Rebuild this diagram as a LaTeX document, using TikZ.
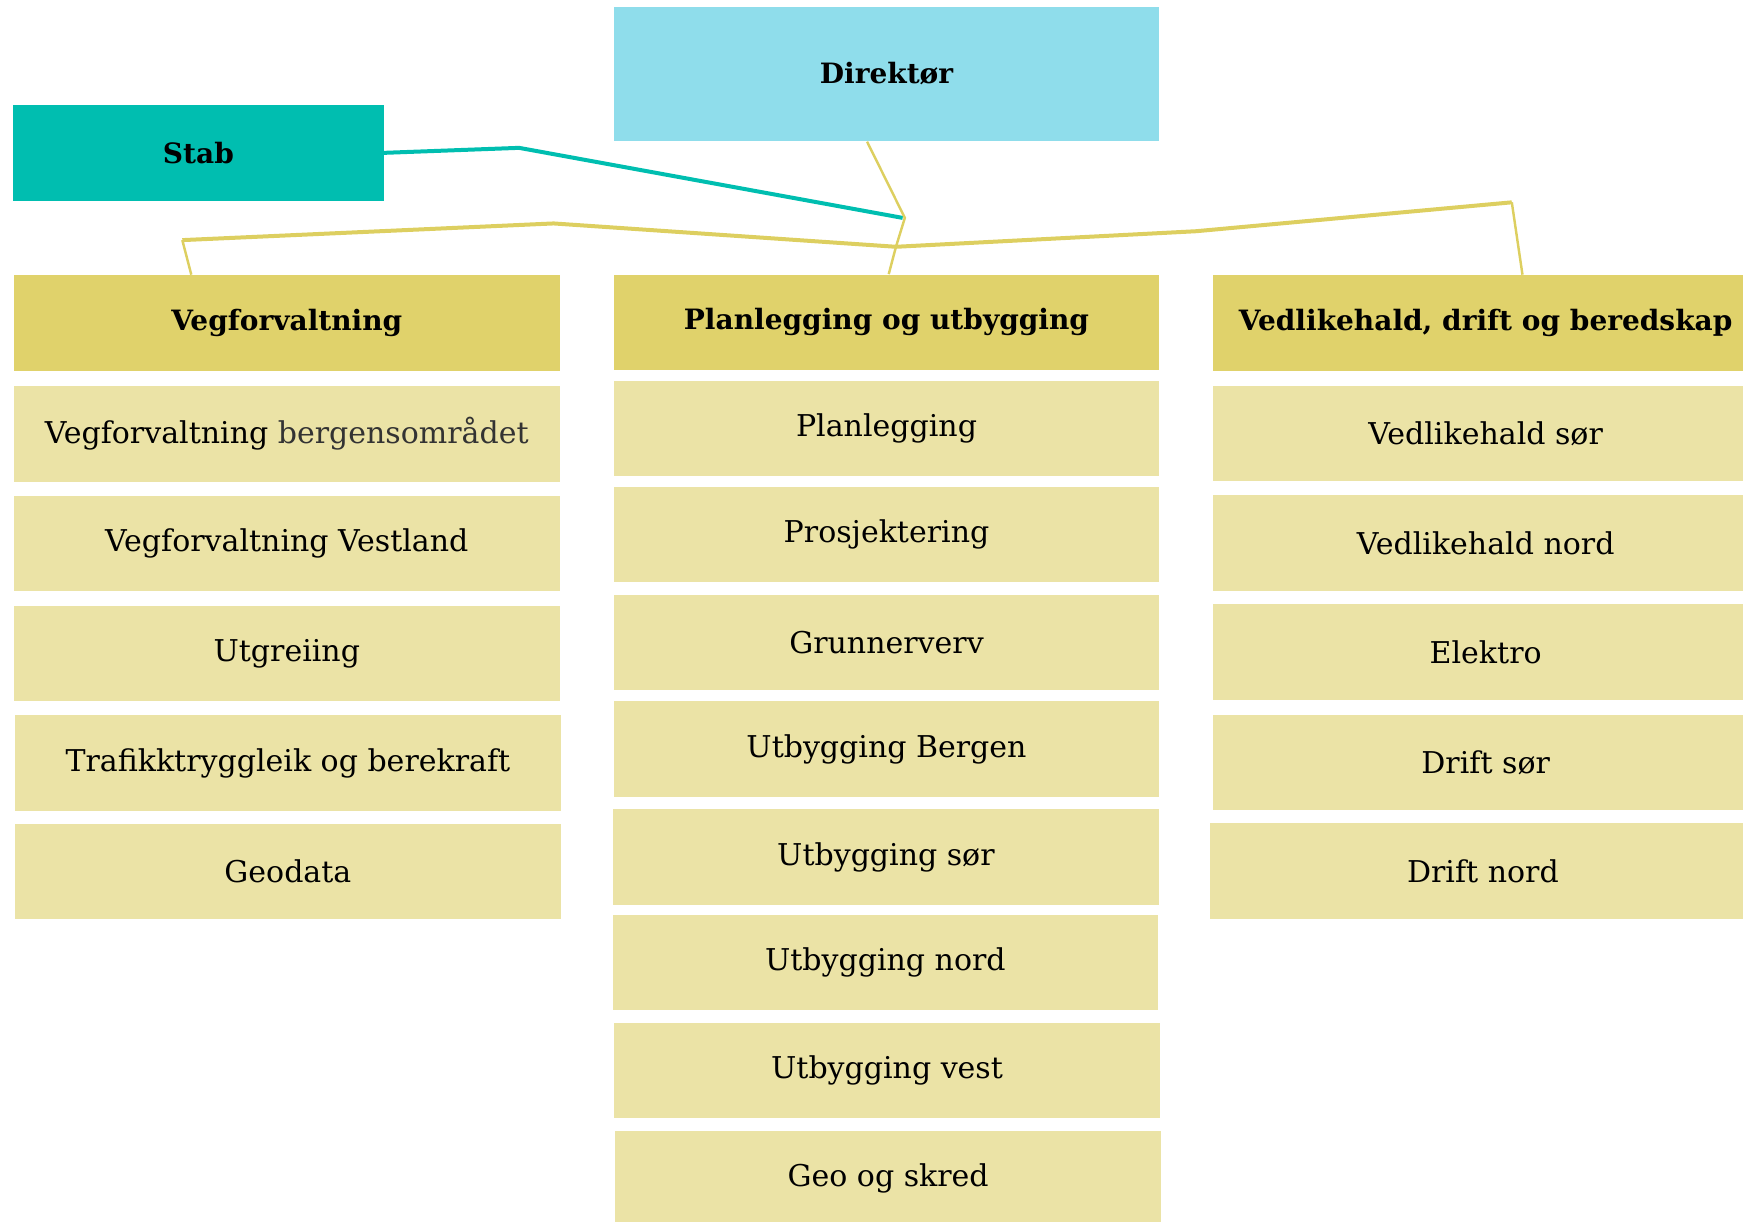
\documentclass[tikz,border=0pt]{standalone}
\usepackage{fontspec}
\setmainfont{DejaVu Serif}
\usepackage{tikz}

\definecolor{direktorblue}{HTML}{8FDDEB}
\definecolor{stabteal}{HTML}{00BEB0}
\definecolor{headyellow}{HTML}{E0D26B}
\definecolor{itemyellow}{HTML}{EBE3A6}
\definecolor{lineyellow}{HTML}{DDCF60}

\begin{document}
\begin{tikzpicture}[x = 0.5pt, y = -0.5pt,
		box/.style = {rectangle, inner sep = 0pt, minimum width = 245.5pt, minimum height = 43pt, font = \fontsize{13.5}{16}\selectfont},
		head/.style = {box, fill = headyellow, font = \fontsize{12.6}{15}\selectfont\bfseries},
		item/.style = {box, fill = itemyellow}]
		\def\buswidth{1.8pt}
		\def\dropwidth{1.1pt}
		\useasboundingbox (0,0) rectangle (1568,1099);
		%--------------------

		\node[box, fill = direktorblue, minimum height = 60.5pt, font = \fontsize{12.6}{15}\selectfont\bfseries] (dir) at (797.5,66.5) {Direktør};
		\node[box, fill = stabteal, minimum width = 166.5pt, font = \fontsize{12.6}{15}\selectfont\bfseries] (stab) at (178.5,137.5) {Stab};

		%--------------------
		\node[head] (veg) at (258,290.5) {Vegforvaltning};
		\node[item] (veg1) at (258,390.5) {Vegforvaltning \textcolor{black!80}{bergensområdet}};
		\node[item] (veg2) at (258,489) {Vegforvaltning Vestland};
		\node[item] (veg3) at (258,588) {Utgreiing};
		\node[item] (veg4) at (259,686.5) {Trafikktryggleik og berekraft};
		\node[item] (veg5) at (259,784) {Geodata};

		%--------------------
		\node[head] (plan) at (797.5,290) {Planlegging og utbygging};
		\node[item] (plan1) at (797.5,385.5) {Planlegging};
		\node[item] (plan2) at (797.5,481) {Prosjektering};
		\node[item] (plan3) at (797.5,578) {Grunnerverv};
		\node[item] (plan4) at (797.5,674) {Utbygging Bergen};
		\node[item] (plan5) at (797,771) {Utbygging sør};
		\node[item] (plan6) at (796.5,866) {Utbygging nord};
		\node[item] (plan7) at (798,963) {Utbygging vest};
		\node[item] (plan8) at (799,1060) {Geo og skred};

		%--------------------
		\node[head] (ved) at (1336.5,290.5) {Vedlikehald, drift og beredskap};
		\node[item] (ved1) at (1336.5,390) {Vedlikehald sør};
		\node[item] (ved2) at (1336.5,488.5) {Vedlikehald nord};
		\node[item] (ved3) at (1336.5,586.5) {Elektro};
		\node[item] (ved4) at (1336.5,686) {Drift sør};
		\node[item] (ved5) at (1334,783.5) {Drift nord};

		%--------------------
		\coordinate (stabknee) at (467,133);
		\coordinate (stabend) at (812,196);
		\coordinate (dirknee) at (814,196);
		\coordinate (hub) at (806,222);
		\coordinate (busleft) at (164,216);
		\coordinate (busmidleft) at (498,201);
		\coordinate (busmidright) at (1076,208);
		\coordinate (busright) at (1360,182);

		\draw[stabteal, line width = \buswidth] (stab.east) -- (stabknee) -- (stabend);
		\draw[lineyellow, line width = \dropwidth] ([xshift = -8.75pt]dir.south) -- (dirknee) -- (hub) -- ([xshift = 1pt]plan.north);
		\draw[lineyellow, line width = \buswidth] (busleft) -- (busmidleft) -- (hub) -- (busmidright) -- (busright);
		\draw[lineyellow, line width = \dropwidth] (busleft) -- ([xshift = 80pt]veg.north west);
		\draw[lineyellow, line width = \dropwidth] (busright) -- ([xshift = 139.5pt]ved.north west);
	\end{tikzpicture}
\end{document}
